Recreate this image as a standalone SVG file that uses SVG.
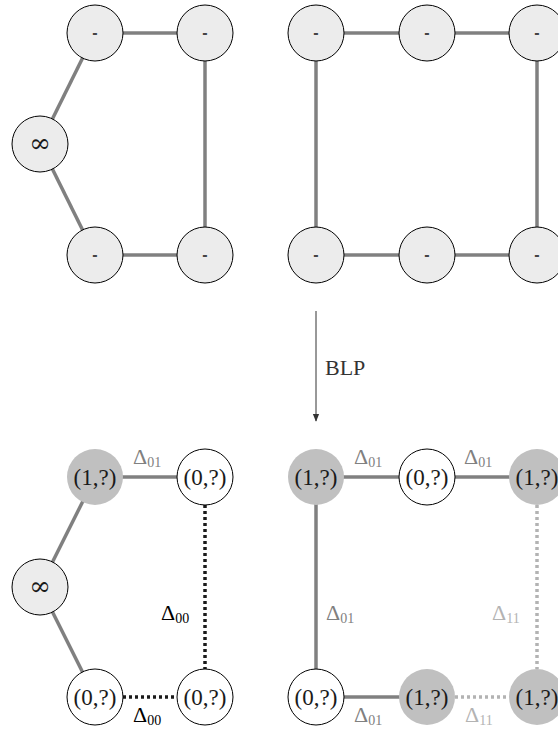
<svg xmlns="http://www.w3.org/2000/svg" width="558" height="731" viewBox="0 0 558 731">
<defs>
<style>
.e{stroke:#808080;stroke-width:3.5;fill:none}
.dk{stroke:#1a1a1a;stroke-width:3.5;stroke-dasharray:3 3;fill:none}
.lt{stroke:#b3b3b3;stroke-width:3.5;stroke-dasharray:3 3;fill:none}
.n{fill:#ececec;stroke:#000;stroke-width:1}
.w{fill:#fff;stroke:#000;stroke-width:1}
.g{fill:#c0c0c0;stroke:none}
.t{font-family:"Liberation Serif","DejaVu Serif",serif;font-size:23px;text-anchor:middle;fill:#1a1a1a}
.d{font-family:"Liberation Sans",sans-serif;font-size:16px;font-weight:bold;text-anchor:middle;fill:#444}
.inf{font-family:"DejaVu Serif",serif;font-size:26px;text-anchor:middle;fill:#1a1a1a}
.lb{font-family:"Liberation Serif","DejaVu Serif",serif;font-size:22px}
.sub{font-size:14px}
</style>
<marker id="ah" viewBox="0 0 10 10" refX="9" refY="5" markerWidth="8" markerHeight="8" markerUnits="userSpaceOnUse" orient="auto"><path d="M0,1 L10,5 L0,9 Z" fill="#333"/></marker>
</defs>
<g id="connectors">
<line class="e" x1="95" y1="33" x2="205" y2="33"/>
<line class="e" x1="205" y1="33" x2="205" y2="255"/>
<line class="e" x1="95" y1="255" x2="205" y2="255"/>
<line class="e" x1="40" y1="144" x2="95" y2="33"/>
<line class="e" x1="40" y1="144" x2="95" y2="255"/>
<line class="e" x1="316" y1="33" x2="537" y2="33"/>
<line class="e" x1="316" y1="33" x2="316" y2="255"/>
<line class="e" x1="537" y1="33" x2="537" y2="255"/>
<line class="e" x1="316" y1="255" x2="537" y2="255"/>
<line x1="316" y1="311" x2="316" y2="421" stroke="#333" stroke-width="1" marker-end="url(#ah)"/>
<line class="e" x1="95" y1="477" x2="205" y2="477"/>
<line class="dk" x1="205" y1="505" x2="205" y2="669"/>
<line class="dk" x1="123" y1="697" x2="177" y2="697"/>
<line class="e" x1="40" y1="587" x2="95" y2="477"/>
<line class="e" x1="40" y1="587" x2="95" y2="697"/>
<line class="e" x1="316" y1="477" x2="537" y2="477"/>
<line class="e" x1="316" y1="477" x2="316" y2="697"/>
<line class="lt" x1="537" y1="505" x2="537" y2="669"/>
<line class="e" x1="316" y1="697" x2="427" y2="697"/>
<line class="lt" x1="455" y1="697" x2="509" y2="697"/>
</g>
<g id="n1"><circle class="n" cx="95" cy="33" r="28"/><text class="d" x="95" y="38">-</text></g>
<g id="n2"><circle class="n" cx="205" cy="33" r="28"/><text class="d" x="205" y="38">-</text></g>
<g id="n3"><circle class="n" cx="40" cy="144" r="28"/><text class="inf" x="40" y="152">∞</text></g>
<g id="n4"><circle class="n" cx="95" cy="255" r="28"/><text class="d" x="95" y="260">-</text></g>
<g id="n5"><circle class="n" cx="205" cy="255" r="28"/><text class="d" x="205" y="260">-</text></g>
<g id="n6"><circle class="n" cx="316" cy="33" r="28"/><text class="d" x="316" y="38">-</text></g>
<g id="n7"><circle class="n" cx="427" cy="33" r="28"/><text class="d" x="427" y="38">-</text></g>
<g id="n8"><circle class="n" cx="537" cy="33" r="28"/><text class="d" x="537" y="38">-</text></g>
<g id="n9"><circle class="n" cx="316" cy="255" r="28"/><text class="d" x="316" y="260">-</text></g>
<g id="n10"><circle class="n" cx="427" cy="255" r="28"/><text class="d" x="427" y="260">-</text></g>
<g id="n11"><circle class="n" cx="537" cy="255" r="28"/><text class="d" x="537" y="260">-</text></g>
<g id="blp"><text class="lb" x="325" y="375" fill="#333" font-size="23">BLP</text></g>
<g id="m1"><circle class="g" cx="95" cy="477" r="28"/><text class="t" x="95" y="485">(1,?)</text></g>
<g id="m2"><circle class="w" cx="205" cy="477" r="28"/><text class="t" x="205" y="485">(0,?)</text></g>
<g id="m3"><circle class="n" cx="40" cy="587" r="28"/><text class="inf" x="40" y="595">∞</text></g>
<g id="m4"><circle class="w" cx="95" cy="697" r="28"/><text class="t" x="95" y="705">(0,?)</text></g>
<g id="m5"><circle class="w" cx="205" cy="697" r="28"/><text class="t" x="205" y="705">(0,?)</text></g>
<g id="m6"><circle class="g" cx="316" cy="477" r="28"/><text class="t" x="316" y="485">(1,?)</text></g>
<g id="m7"><circle class="w" cx="427" cy="477" r="28"/><text class="t" x="427" y="485">(0,?)</text></g>
<g id="m8"><circle class="g" cx="537" cy="477" r="28"/><text class="t" x="537" y="485">(1,?)</text></g>
<g id="m9"><circle class="w" cx="316" cy="697" r="28"/><text class="t" x="316" y="705">(0,?)</text></g>
<g id="m10"><circle class="g" cx="427" cy="697" r="28"/><text class="t" x="427" y="705">(1,?)</text></g>
<g id="m11"><circle class="g" cx="537" cy="697" r="28"/><text class="t" x="537" y="705">(1,?)</text></g>
<g id="labels">
<text class="lb" x="133" y="464" fill="#808080">Δ<tspan class="sub" dy="3">01</tspan></text>
<text class="lb" x="161" y="620" fill="#000">Δ<tspan class="sub" dy="3">00</tspan></text>
<text class="lb" x="133" y="722" fill="#000">Δ<tspan class="sub" dy="3">00</tspan></text>
<text class="lb" x="354" y="464" fill="#808080">Δ<tspan class="sub" dy="3">01</tspan></text>
<text class="lb" x="464" y="464" fill="#808080">Δ<tspan class="sub" dy="3">01</tspan></text>
<text class="lb" x="326" y="620" fill="#808080">Δ<tspan class="sub" dy="3">01</tspan></text>
<text class="lb" x="492" y="620" fill="#b3b3b3">Δ<tspan class="sub" dy="3">11</tspan></text>
<text class="lb" x="354" y="722" fill="#808080">Δ<tspan class="sub" dy="3">01</tspan></text>
<text class="lb" x="465" y="722" fill="#b3b3b3">Δ<tspan class="sub" dy="3">11</tspan></text>
</g>
</svg>
